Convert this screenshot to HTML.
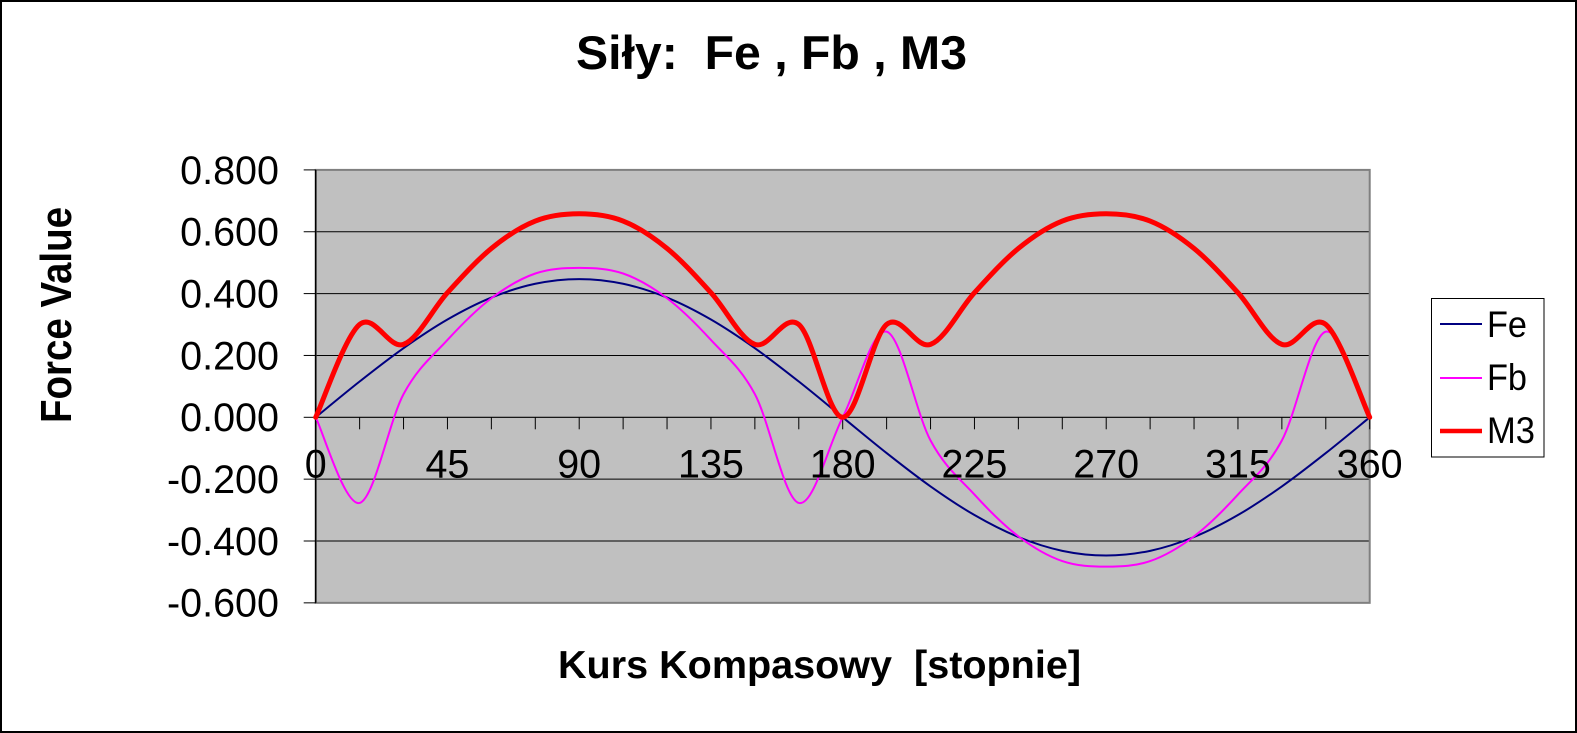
<!DOCTYPE html>
<html>
<head>
<meta charset="utf-8">
<style>
  html, body { margin: 0; padding: 0; background: #ffffff; }
  svg { display: block; }
  text { font-family: "Liberation Sans", Arial, sans-serif; fill: #000; }
</style>
</head>
<body>
<svg width="1577" height="733" viewBox="0 0 1577 733" xmlns="http://www.w3.org/2000/svg">
  <!-- outer background & border -->
  <rect x="0" y="0" width="1577" height="733" fill="#ffffff"/>
  <rect x="1" y="1" width="1575" height="731" fill="none" stroke="#000" stroke-width="2"/>

  <!-- title -->
  <text x="576" y="69" font-size="47" font-weight="bold" textLength="391" lengthAdjust="spacingAndGlyphs" xml:space="preserve">Siły:  Fe , Fb , M3</text>

  <!-- plot area -->
  <rect x="315.7" y="169.9" width="1054" height="432.95" fill="#C0C0C0"/>

  <!-- gridlines -->
  <g stroke="#000" stroke-width="1">
    <line x1="315.7" y1="231.75" x2="1369.7" y2="231.75"/>
    <line x1="315.7" y1="293.6" x2="1369.7" y2="293.6"/>
    <line x1="315.7" y1="355.45" x2="1369.7" y2="355.45"/>
    <line x1="315.7" y1="479.15" x2="1369.7" y2="479.15"/>
    <line x1="315.7" y1="541.0" x2="1369.7" y2="541.0"/>
  </g>

  <!-- plot border -->
  <rect x="315.7" y="169.9" width="1054" height="432.95" fill="none" stroke="#808080" stroke-width="2"/>

  <!-- y axis -->
  <line x1="315.7" y1="169.9" x2="315.7" y2="602.85" stroke="#000" stroke-width="1.5"/>
  <g stroke="#000" stroke-width="1">
    <line x1="303.7" y1="169.9" x2="315.7" y2="169.9"/>
    <line x1="303.7" y1="231.75" x2="315.7" y2="231.75"/>
    <line x1="303.7" y1="293.6" x2="315.7" y2="293.6"/>
    <line x1="303.7" y1="355.45" x2="315.7" y2="355.45"/>
    <line x1="303.7" y1="417.3" x2="315.7" y2="417.3"/>
    <line x1="303.7" y1="479.15" x2="315.7" y2="479.15"/>
    <line x1="303.7" y1="541.0" x2="315.7" y2="541.0"/>
    <line x1="303.7" y1="602.85" x2="315.7" y2="602.85"/>
  </g>

  <!-- x axis at zero -->
  <line x1="315.7" y1="417.3" x2="1369.7" y2="417.3" stroke="#000" stroke-width="1.2"/>
  <g stroke="#000" stroke-width="1">
    <line x1="359.62" y1="417.3" x2="359.62" y2="429.3"/>
    <line x1="403.53" y1="417.3" x2="403.53" y2="429.3"/>
    <line x1="447.45" y1="417.3" x2="447.45" y2="429.3"/>
    <line x1="491.37" y1="417.3" x2="491.37" y2="429.3"/>
    <line x1="535.29" y1="417.3" x2="535.29" y2="429.3"/>
    <line x1="579.20" y1="417.3" x2="579.20" y2="429.3"/>
    <line x1="623.12" y1="417.3" x2="623.12" y2="429.3"/>
    <line x1="667.04" y1="417.3" x2="667.04" y2="429.3"/>
    <line x1="710.95" y1="417.3" x2="710.95" y2="429.3"/>
    <line x1="754.87" y1="417.3" x2="754.87" y2="429.3"/>
    <line x1="798.79" y1="417.3" x2="798.79" y2="429.3"/>
    <line x1="842.70" y1="417.3" x2="842.70" y2="429.3"/>
    <line x1="886.62" y1="417.3" x2="886.62" y2="429.3"/>
    <line x1="930.54" y1="417.3" x2="930.54" y2="429.3"/>
    <line x1="974.46" y1="417.3" x2="974.46" y2="429.3"/>
    <line x1="1018.37" y1="417.3" x2="1018.37" y2="429.3"/>
    <line x1="1062.29" y1="417.3" x2="1062.29" y2="429.3"/>
    <line x1="1106.21" y1="417.3" x2="1106.21" y2="429.3"/>
    <line x1="1150.12" y1="417.3" x2="1150.12" y2="429.3"/>
    <line x1="1194.04" y1="417.3" x2="1194.04" y2="429.3"/>
    <line x1="1237.96" y1="417.3" x2="1237.96" y2="429.3"/>
    <line x1="1281.87" y1="417.3" x2="1281.87" y2="429.3"/>
    <line x1="1325.79" y1="417.3" x2="1325.79" y2="429.3"/>
    <line x1="1369.70" y1="417.3" x2="1369.70" y2="429.3"/>
  </g>

  <!-- series (data units: x = step of 15deg, y = value*1000) -->
  <g transform="translate(315.7 417.3) scale(43.9167 -0.30925)" fill="none" stroke-linejoin="round" stroke-linecap="round">
    <!-- Fe -->
    <path vector-effect="non-scaling-stroke" stroke="#000080" stroke-width="2"
      d="M0,0 C0.1667,19.28 0.6667,78.45 1,115.7
         C1.3333,152.95 1.6667,190.1 2,223.5
         C2.3333,256.9 2.6667,288.83 3,316.1
         C3.3333,343.37 3.6667,367.82 4,387.1
         C4.3333,406.38 4.6667,421.82 5,431.8
         C5.3333,441.78 5.6667,447 6,447
         C6.3333,447 6.6667,441.78 7,431.8
         C7.3333,421.82 7.6667,406.38 8,387.1
         C8.3333,367.82 8.6667,343.37 9,316.1
         C9.3333,288.83 9.6667,256.9 10,223.5
         C10.3333,190.1 10.6667,152.95 11,115.7
         C11.3333,78.45 11.6667,38.57 12,0
         C12.3333,-38.57 12.6667,-78.45 13,-115.7
         C13.3333,-152.95 13.6667,-190.1 14,-223.5
         C14.3333,-256.9 14.6667,-288.83 15,-316.1
         C15.3333,-343.37 15.6667,-367.82 16,-387.1
         C16.3333,-406.38 16.6667,-421.82 17,-431.8
         C17.3333,-441.78 17.6667,-447 18,-447
         C18.3333,-447 18.6667,-441.78 19,-431.8
         C19.3333,-421.82 19.6667,-406.38 20,-387.1
         C20.3333,-367.82 20.6667,-343.37 21,-316.1
         C21.3333,-288.83 21.6667,-256.9 22,-223.5
         C22.3333,-190.1 22.6667,-152.95 23,-115.7
         C23.3333,-78.45 23.8333,-19.28 24,0"/>
    <!-- Fb -->
    <path vector-effect="non-scaling-stroke" stroke="#FF00FF" stroke-width="2"
      d="M0,0 C0.1667,-46.17 0.6667,-289.5 1,-277
         C1.3333,-264.5 1.6667,-12.83 2,75
         C2.3333,162.83 2.6667,198.33 3,250
         C3.3333,301.67 3.6667,349.17 4,385
         C4.3333,420.83 4.6667,448.67 5,465
         C5.3333,481.33 5.6667,483 6,483
         C6.3333,483 6.6667,481.33 7,465
         C7.3333,448.67 7.6667,420.83 8,385
         C8.3333,349.17 8.6667,301.67 9,250
         C9.3333,198.33 9.6667,162.83 10,75
         C10.3333,-12.83 10.6667,-264.5 11,-277
         C11.3333,-289.5 11.6667,-92.33 12,0
         C12.3333,92.33 12.6667,289.5 13,277
         C13.3333,264.5 13.6667,12.83 14,-75
         C14.3333,-162.83 14.6667,-198.33 15,-250
         C15.3333,-301.67 15.6667,-349.17 16,-385
         C16.3333,-420.83 16.6667,-448.67 17,-465
         C17.3333,-481.33 17.6667,-483 18,-483
         C18.3333,-483 18.6667,-481.33 19,-465
         C19.3333,-448.67 19.6667,-420.83 20,-385
         C20.3333,-349.17 20.6667,-301.67 21,-250
         C21.3333,-198.33 21.6667,-162.83 22,-75
         C22.3333,12.83 22.6667,264.5 23,277
         C23.3333,289.5 23.8333,46.17 24,0"/>
    <!-- M3 -->
    <path vector-effect="non-scaling-stroke" stroke="#FF0000" stroke-width="5"
      d="M0,0 C0.1667,50.03 0.6667,260.92 1,300.2
         C1.3333,339.48 1.6667,218.57 2,235.7
         C2.3333,252.83 2.6667,351.28 3,403
         C3.3333,454.72 3.6667,507.4 4,546
         C4.3333,584.6 4.6667,615.92 5,634.6
         C5.3333,653.28 5.6667,658.1 6,658.1
         C6.3333,658.1 6.6667,653.28 7,634.6
         C7.3333,615.92 7.6667,584.6 8,546
         C8.3333,507.4 8.6667,454.72 9,403
         C9.3333,351.28 9.6667,252.83 10,235.7
         C10.3333,218.57 10.6667,339.48 11,300.2
         C11.3333,260.92 11.6667,0 12,0
         C12.3333,0 12.6667,260.92 13,300.2
         C13.3333,339.48 13.6667,218.57 14,235.7
         C14.3333,252.83 14.6667,351.28 15,403
         C15.3333,454.72 15.6667,507.4 16,546
         C16.3333,584.6 16.6667,615.92 17,634.6
         C17.3333,653.28 17.6667,658.1 18,658.1
         C18.3333,658.1 18.6667,653.28 19,634.6
         C19.3333,615.92 19.6667,584.6 20,546
         C20.3333,507.4 20.6667,454.72 21,403
         C21.3333,351.28 21.6667,252.83 22,235.7
         C22.3333,218.57 22.6667,339.48 23,300.2
         C23.3333,260.92 23.8333,50.03 24,0"/>
  </g>

  <!-- y tick labels -->
  <g font-size="39.5" text-anchor="end">
    <text x="279" y="183.8">0.800</text>
    <text x="279" y="245.6">0.600</text>
    <text x="279" y="307.5">0.400</text>
    <text x="279" y="369.3">0.200</text>
    <text x="279" y="431.2">0.000</text>
    <text x="279" y="493.0">-0.200</text>
    <text x="279" y="554.9">-0.400</text>
    <text x="279" y="616.7">-0.600</text>
  </g>

  <!-- x tick labels -->
  <g font-size="39.5" text-anchor="middle">
    <text x="315.7" y="477.5">0</text>
    <text x="447.45" y="477.5">45</text>
    <text x="579.2" y="477.5">90</text>
    <text x="710.95" y="477.5">135</text>
    <text x="842.7" y="477.5">180</text>
    <text x="974.46" y="477.5">225</text>
    <text x="1106.21" y="477.5">270</text>
    <text x="1237.96" y="477.5">315</text>
    <text x="1369.7" y="477.5">360</text>
  </g>

  <!-- axis titles -->
  <text x="558" y="678" font-size="39" font-weight="bold" textLength="523" lengthAdjust="spacingAndGlyphs" xml:space="preserve">Kurs Kompasowy  [stopnie]</text>
  <text transform="translate(71 423) rotate(-90)" x="0" y="0" font-size="44" font-weight="bold" textLength="216" lengthAdjust="spacingAndGlyphs">Force Value</text>

  <!-- legend -->
  <rect x="1431.5" y="298.5" width="112.5" height="158.5" fill="#ffffff" stroke="#000" stroke-width="1"/>
  <line x1="1440" y1="324" x2="1482" y2="324" stroke="#000080" stroke-width="2"/>
  <line x1="1440" y1="378" x2="1482" y2="378" stroke="#FF00FF" stroke-width="2"/>
  <line x1="1440" y1="431" x2="1482" y2="431" stroke="#FF0000" stroke-width="4.5"/>
  <g font-size="37">
    <text x="1487" y="337" textLength="40" lengthAdjust="spacingAndGlyphs">Fe</text>
    <text x="1487" y="390" textLength="40" lengthAdjust="spacingAndGlyphs">Fb</text>
    <text x="1487" y="443" textLength="48" lengthAdjust="spacingAndGlyphs">M3</text>
  </g>
</svg>
</body>
</html>
